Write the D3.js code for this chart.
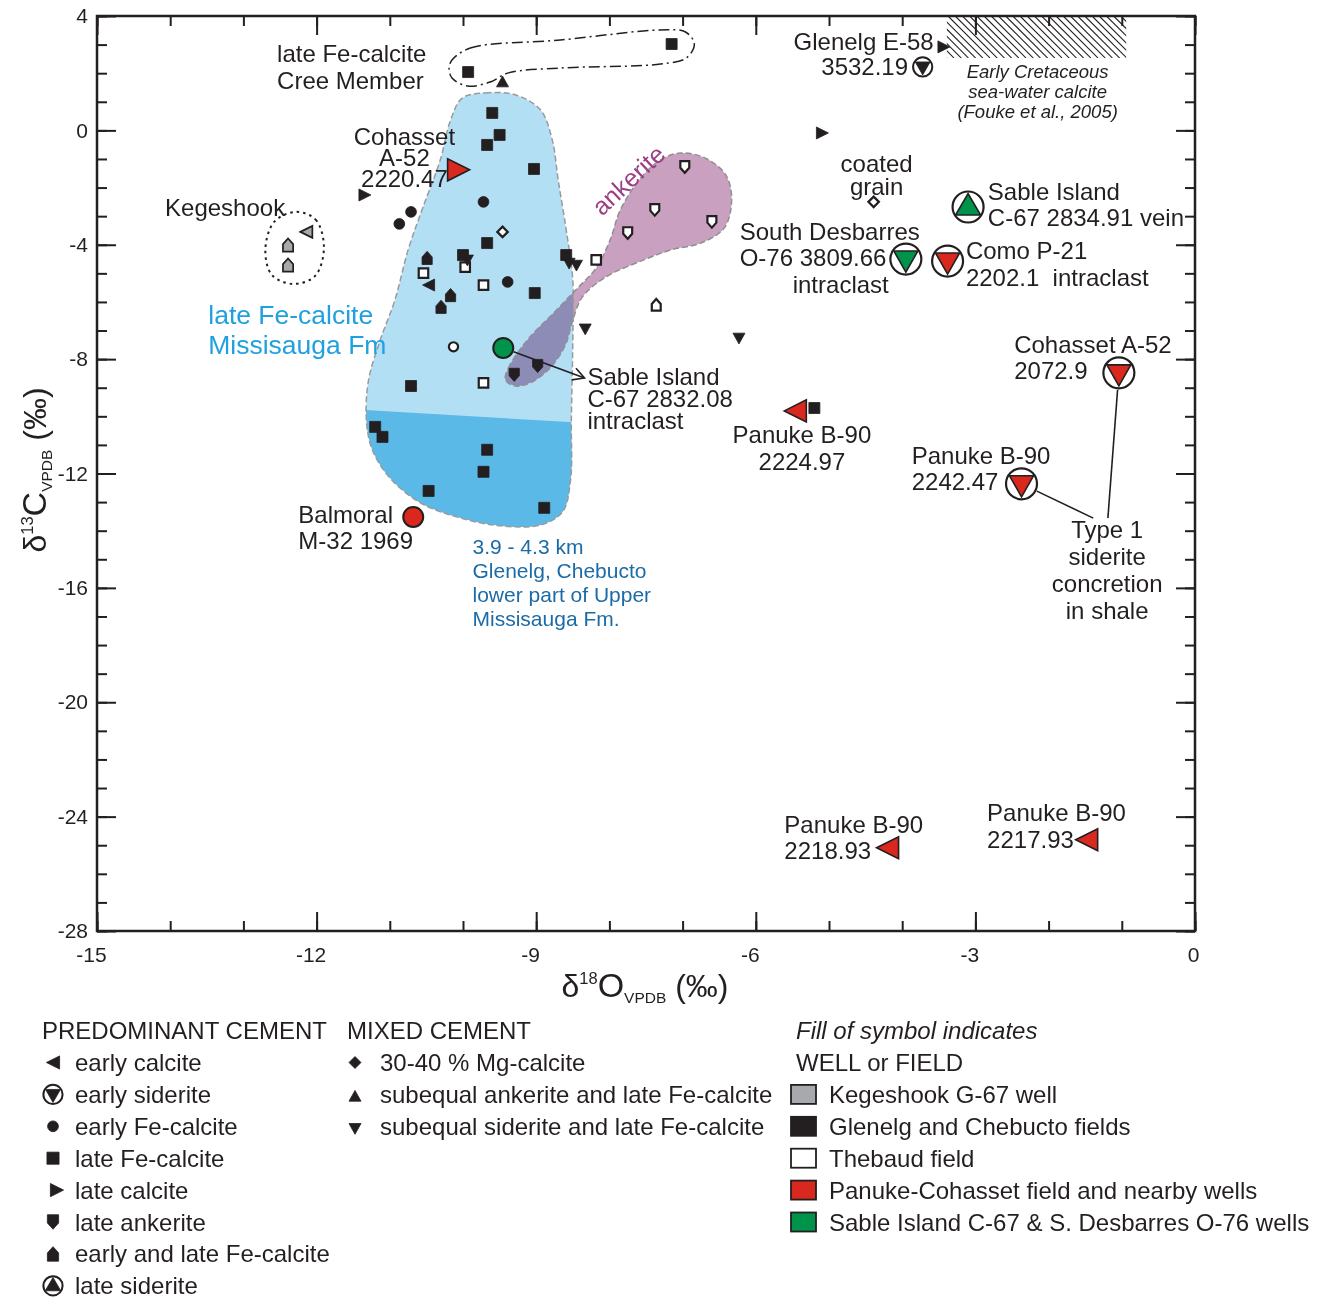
<!DOCTYPE html>
<html><head><meta charset="utf-8">
<script src="https://cdn.jsdelivr.net/npm/d3@7"></script>
<style>
body{margin:0;background:#fff;}
svg{display:block;font-family:"Liberation Sans",Arial,sans-serif;}
</style></head><body>
<svg id="chart" width="1326" height="1300"></svg>
<script>
// ---------- axis ticks ----------
const xMajorTicks = [-15, -12, -9, -6, -3, 0];
const yMajorTicks = [4, 0, -4, -8, -12, -16, -20, -24, -28];

// ---------- samples: [δ18O, δ13C, well/field, labelled sample (drawn large)] ----------
// fields: K Kegeshook G-67, G Glenelg & Chebucto, T Thebaud, P Panuke-Cohasset, S Sable Island / S. Desbarres
const earlyCalcite = [[-10.47,-5.41,"G"],[-12.14,-3.55,"K"],[-5.46,-9.81,"P",1],[-4.20,-25.09,"P",1],[-1.48,-24.81,"P",1]];
const earlySiderite = [[-3.72,2.22,"G"],[-3.95,-4.50,"S",1],[-3.38,-4.57,"P",1],[-1.04,-8.48,"P",1],[-2.37,-12.36,"P",1]];
const earlyFeCalcite = [[-9.72,-2.50,"G"],[-10.71,-2.85,"G"],[-10.87,-3.27,"G"],[-9.39,-5.30,"G"],[-10.13,-7.57,"T"],[-9.45,-7.61,"S",1],[-10.68,-13.52,"P",1]];
const lateFeCalcite = [[-7.15,3.02,"G"],[-9.93,2.04,"G"],[-9.60,0.61,"G"],[-9.50,-0.16,"G"],[-9.67,-0.51,"G"],[-9.03,-1.35,"G"],
  [-9.67,-3.94,"G"],[-10.00,-4.36,"G"],[-8.59,-4.36,"G"],[-9.02,-5.69,"G"],[-10.71,-8.94,"G"],[-11.20,-10.37,"G"],
  [-11.10,-10.72,"G"],[-9.67,-11.17,"G"],[-9.72,-11.94,"G"],[-10.47,-12.61,"G"],[-8.89,-13.20,"G"],[-5.20,-9.71,"G"],
  [-10.54,-4.99,"T"],[-9.97,-4.78,"T"],[-9.72,-5.41,"T"],[-8.18,-4.53,"T"],[-9.72,-8.83,"T"]];
const lateCalcite = [[-11.34,-2.26,"G"],[-3.43,2.92,"G"],[-5.09,-0.09,"G"],[-10.06,-1.38,"P",1]];
const lateAnkerite = [[-8.98,-8.24,"G"],[-9.30,-8.55,"G"],[-6.97,-1.28,"T"],[-7.38,-2.78,"T"],[-6.60,-3.20,"T"],[-7.75,-3.59,"T"]];
const earlyLateFeCalcite = [[-10.49,-4.46,"G"],[-10.17,-5.76,"G"],[-10.30,-6.17,"G"],[-7.36,-6.10,"T"],[-12.39,-4.01,"K"],[-12.39,-4.71,"K"]];
const lateSiderite = [[-3.10,-2.68,"S",1]];
const mgCalcite = [[-9.46,-3.55,"T"],[-4.39,-2.50,"T"]];
const ankeriteFeCalcite = [[-9.46,1.69,"G"]];
const sideriteFeCalcite = [[-9.94,-4.53,"G"],[-8.55,-4.64,"G"],[-8.45,-4.71,"G"],[-8.33,-6.94,"G"],[-6.23,-7.26,"G"]];

// ---------- outlined fields: [δ18O, δ13C] ----------
const missisaugaField = [[-10.01,1.13],[-9.69,1.31],[-9.28,1.24],[-8.94,0.71],[-8.78,-0.34],[-8.70,-1.73],[-8.59,-3.48],
  [-8.50,-5.23],[-8.50,-7.33],[-8.52,-10.13],[-8.53,-12.22],[-8.64,-13.34],[-8.94,-13.80],[-9.49,-13.83],[-10.04,-13.55],
  [-10.58,-13.03],[-11.00,-12.15],[-11.24,-11.17],[-11.32,-10.13],[-11.29,-8.73],[-11.13,-7.33],[-10.93,-5.93],
  [-10.75,-4.18],[-10.56,-2.78],[-10.31,-1.03],[-10.17,0.36]];
const deepZone = [[-11.8,-9.71],[-8.2,-10.25],[-8.2,-15],[-11.8,-15]];   // 3.9 - 4.3 km part of the field
const ankeriteField = [[-9.42,-8.73],[-9.38,-8.31],[-9.12,-7.33],[-8.76,-6.38],[-8.46,-5.58],[-8.18,-4.81],[-7.99,-3.83],
  [-7.85,-2.78],[-7.57,-1.66],[-7.30,-1.03],[-7.03,-0.79],[-6.69,-0.97],[-6.41,-1.56],[-6.33,-2.43],[-6.43,-3.41],
  [-6.75,-3.94],[-7.16,-4.18],[-7.53,-4.53],[-8.05,-5.13],[-8.37,-5.83],[-8.50,-6.63],[-8.60,-7.50],[-8.81,-8.31],
  [-9.08,-8.83],[-9.28,-8.94]];
const kegeshookField = [[-12.28,-2.85],[-12.01,-3.13],[-11.90,-4.11],[-12.02,-5.09],[-12.32,-5.37],[-12.61,-5.06],[-12.70,-4.18],[-12.58,-3.20]];
const creeField = [[-10.15,2.46],[-9.90,2.88],[-8.67,3.16],[-7.30,3.51],[-6.96,3.44],[-6.84,3.02],[-6.95,2.53],[-7.30,2.32],
  [-8.67,2.18],[-9.38,2.01],[-9.63,1.69],[-9.93,1.55],[-10.15,1.83],[-10.19,2.18]];
const seawaterO = [-3.39, -0.94];
const seawaterC = [2.53, 4];

// ---------- legend entries ----------
const predominantCement = [["earlyCalcite","early calcite"],["earlySiderite","early siderite"],["earlyFeCalcite","early Fe-calcite"],
  ["lateFeCalcite","late Fe-calcite"],["lateCalcite","late calcite"],["lateAnkerite","late ankerite"],
  ["earlyLateFeCalcite","early and late Fe-calcite"],["lateSiderite","late siderite"]];
const mixedCement = [["mgCalcite","30-40 % Mg-calcite"],["ankeriteFeCalcite","subequal ankerite and late Fe-calcite"],
  ["sideriteFeCalcite","subequal siderite and late Fe-calcite"]];
const wellFields = [["K","Kegeshook G-67 well"],["G","Glenelg and Chebucto fields"],["T","Thebaud field"],
  ["P","Panuke-Cohasset field and nearby wells"],["S","Sable Island C-67 & S. Desbarres O-76 wells"]];

// ---------- styles ----------
const INK = "#231f20";
const FIELD_COLOR = {K:"#a7a9ac", G:INK, T:"#ffffff", P:"#d9281d", S:"#00944a"};
const SHAPE = {earlyCalcite:"left", earlyFeCalcite:"circle", lateFeCalcite:"square", lateCalcite:"right",
  lateAnkerite:"shield", earlyLateFeCalcite:"house", mgCalcite:"diamond", ankeriteFeCalcite:"up",
  sideriteFeCalcite:"down", earlySiderite:"ringDown", lateSiderite:"ringUp"};
const FONT = 24;

const svg = d3.select("#chart");
const x = d3.scaleLinear().domain([-15, 0]).range([97, 1195]);
const y = d3.scaleLinear().domain([-28, 4]).range([931, 16]);

function shapePath(kind, s) {
  const h = s / 2;
  switch (kind) {
    case "square": return `M${-h},${-h}H${h}V${h}H${-h}Z`;
    case "left": return `M${-h},0L${h},${-h}L${h},${h}Z`;
    case "right": return `M${h},0L${-h},${-h}L${-h},${h}Z`;
    case "up": return `M0,${-h}L${h},${h*0.8}L${-h},${h*0.8}Z`;
    case "down": return `M0,${h}L${h},${-h*0.8}L${-h},${-h*0.8}Z`;
    case "diamond": return `M0,${-h}L${h},0L0,${h}L${-h},0Z`;
    case "house": return `M${-h*0.85},${h*1.1}V${-h*0.15}L0,${-h*1.1}L${h*0.85},${-h*0.15}V${h*1.1}Z`;
    case "shield": return `M${-h*0.85},${-h*1.1}H${h*0.85}V${h*0.15}L0,${h*1.1}L${-h*0.85},${h*0.15}Z`;
  }
}

function drawMark(g, type, field, big, scale) {
  const shape = SHAPE[type];
  const fill = FIELD_COLOR[field];
  const f = scale || 1;
  const sw = field === "G" ? 0.8 : (field === "T" ? 2.2 : 1.7);
  if (shape === "circle") {
    g.append("circle").attr("r", big ? 10 : (field === "T" ? 4.6 : 5.4))
      .attr("fill", fill).attr("stroke", INK).attr("stroke-width", big ? 2 : sw);
  } else if (shape === "ringDown" || shape === "ringUp") {
    const R = big ? 15.5 : 9.6;
    g.append("circle").attr("r", R).attr("fill", "#fff").attr("stroke", INK).attr("stroke-width", big ? 2.2 : 2);
    const k = R / 15.5;
    const t = shape === "ringDown" ? [[-12,-8],[12,-8],[0,13]] : [[-12.5,8],[12.5,8],[0,-13.5]];
    g.append("path").attr("d", "M" + t.map(p => [p[0]*k, p[1]*k].join(",")).join("L") + "Z")
      .attr("fill", fill).attr("stroke", INK).attr("stroke-width", big ? 1.6 : 0.8);
  } else {
    const s = (big ? 22 : (shape === "square" ? 11 : 12)) * f;
    g.append("path").attr("d", shapePath(shape, field === "T" ? s - 1.5 : s))
      .attr("fill", fill).attr("stroke", INK).attr("stroke-width", big ? 1.6 : sw);
  }
}

// ---------- fields ----------
const blob = d3.line().x(d => x(d[0])).y(d => y(d[1])).curve(d3.curveCatmullRomClosed.alpha(0.5));
const poly = d3.line().x(d => x(d[0])).y(d => y(d[1])).curve(d3.curveLinearClosed);
const defs = svg.append("defs");
defs.append("clipPath").attr("id", "deepClip").append("path").attr("d", poly(deepZone));
defs.append("clipPath").attr("id", "hatchClip").append("rect")
  .attr("x", x(seawaterO[0])).attr("y", y(seawaterC[1]))
  .attr("width", x(seawaterO[1]) - x(seawaterO[0])).attr("height", y(seawaterC[0]) - y(seawaterC[1]));

const fieldLayer = svg.append("g");
fieldLayer.append("path").attr("d", blob(missisaugaField)).attr("fill", "#b3dff4");
fieldLayer.append("path").attr("d", blob(missisaugaField)).attr("fill", "#5bb9e8").attr("clip-path", "url(#deepClip)");
fieldLayer.append("path").attr("d", blob(ankeriteField)).attr("fill", "#c9a0bf").style("mix-blend-mode", "multiply");
fieldLayer.append("path").attr("d", blob(missisaugaField)).attr("fill", "none")
  .attr("stroke", "#9a9a9c").attr("stroke-width", 1.5).attr("stroke-dasharray", "6,3");
fieldLayer.append("path").attr("d", blob(ankeriteField)).attr("fill", "none")
  .attr("stroke", "#8f8f92").attr("stroke-width", 1.5).attr("stroke-dasharray", "6,3");
fieldLayer.append("path").attr("d", blob(kegeshookField)).attr("fill", "none")
  .attr("stroke", INK).attr("stroke-width", 2).attr("stroke-dasharray", "2.5,4");
fieldLayer.append("path").attr("d", blob(creeField)).attr("fill", "none")
  .attr("stroke", INK).attr("stroke-width", 1.5).attr("stroke-dasharray", "11,4,2,4");

// sea-water calcite hatching
const hx0 = x(seawaterO[0]), hx1 = x(seawaterO[1]), hy0 = y(seawaterC[1]), hy1 = y(seawaterC[0]);
const hh = hy1 - hy0;
const hatch = fieldLayer.append("g").attr("clip-path", "url(#hatchClip)");
for (let k = hx0 - hh; k < hx1 + 2; k += 7.2) {
  hatch.append("line").attr("x1", k).attr("y1", hy0).attr("x2", k + hh).attr("y2", hy1)
    .attr("stroke", INK).attr("stroke-width", 1.1);
}

// ---------- axes ----------
function styleAxis(g) {
  g.select(".domain").remove();
  g.selectAll(".tick line").attr("stroke", INK).attr("stroke-width", 2);
  g.selectAll(".tick text").attr("fill", INK).attr("font-size", 21).attr("font-family", "'Liberation Sans', Arial, sans-serif");
}
const xMinor = d3.range(-15, 0.5, 1), yMinor = d3.range(-28, 4.5, 1);
const fmt = d => String(d);
svg.append("g").attr("transform", "translate(0,931)").call(d3.axisBottom(x).tickValues(xMinor).tickSize(-10).tickFormat("")).call(styleAxis);
svg.append("g").attr("transform", "translate(0,16)").call(d3.axisTop(x).tickValues(xMinor).tickSize(-10).tickFormat("")).call(styleAxis);
svg.append("g").attr("transform", "translate(97,0)").call(d3.axisLeft(y).tickValues(yMinor).tickSize(-10).tickFormat("")).call(styleAxis);
svg.append("g").attr("transform", "translate(1195,0)").call(d3.axisRight(y).tickValues(yMinor).tickSize(-10).tickFormat("")).call(styleAxis);
const bx = svg.append("g").attr("transform", "translate(0,931)")
  .call(d3.axisBottom(x).tickValues(xMajorTicks).tickSize(-19).tickPadding(16).tickFormat(fmt)).call(styleAxis);
bx.selectAll(".tick text").attr("dx", d => d < 0 ? -6 : -2);
svg.append("g").attr("transform", "translate(0,16)").call(d3.axisTop(x).tickValues(xMajorTicks).tickSize(-19).tickFormat("")).call(styleAxis);
svg.append("g").attr("transform", "translate(97,0)")
  .call(d3.axisLeft(y).tickValues(yMajorTicks).tickSize(-19).tickPadding(9).tickFormat(fmt)).call(styleAxis);
svg.append("g").attr("transform", "translate(1195,0)").call(d3.axisRight(y).tickValues(yMajorTicks).tickSize(-19).tickFormat("")).call(styleAxis);
svg.append("rect").attr("x", 97).attr("y", 16).attr("width", 1098).attr("height", 915)
  .attr("fill", "none").attr("stroke", INK).attr("stroke-width", 2.5);

// axis titles
function isoTitle(g, mass, element) {
  const t = g.append("text").attr("text-anchor", "middle").attr("fill", INK);
  t.append("tspan").attr("font-size", 32).text("δ");
  t.append("tspan").attr("font-size", 16.5).attr("dy", -13).text(mass);
  t.append("tspan").attr("font-size", 34).attr("dy", 13).text(element);
  t.append("tspan").attr("font-size", 15.5).attr("dy", 6).text("VPDB");
  t.append("tspan").attr("font-size", 32).attr("dy", -6).text(" (‰)");
}
isoTitle(svg.append("g").attr("transform", "translate(645,997)"), "18", "O");
isoTitle(svg.append("g").attr("transform", "translate(46,470) rotate(-90)"), "13", "C");

// ---------- samples ----------
const markLayer = svg.append("g");
const groups = {earlyCalcite, earlySiderite, earlyFeCalcite, lateFeCalcite, lateCalcite, lateAnkerite,
  earlyLateFeCalcite, lateSiderite, mgCalcite, ankeriteFeCalcite, sideriteFeCalcite};
// connectors first so marks sit on top
const conn = svg.append("g").attr("stroke", INK).attr("stroke-width", 1.6).attr("fill", "none");
function leader(from, r, to, arrow) {
  const x0 = x(from[0]), y0 = y(from[1]), x1 = x(to[0]), y1 = y(to[1]);
  const L = Math.hypot(x1 - x0, y1 - y0), ux = (x1 - x0) / L, uy = (y1 - y0) / L;
  conn.append("line").attr("x1", x0 + ux * r).attr("y1", y0 + uy * r).attr("x2", x1).attr("y2", y1);
  if (arrow) {
    const a = Math.atan2(uy, ux), len = 13, sp = 0.5;
    conn.append("path").attr("d",
      `M${x1 - len*Math.cos(a - sp)},${y1 - len*Math.sin(a - sp)}L${x1},${y1}L${x1 - len*Math.cos(a + sp)},${y1 - len*Math.sin(a + sp)}`);
  }
}
leader(earlyFeCalcite[5], 11, [-8.34, -8.66], true);
leader(earlySiderite[3], 17, [-1.19, -13.56], false);
leader(earlySiderite[4], 17, [-1.39, -13.56], false);

const order = ["lateFeCalcite","earlyFeCalcite","earlyLateFeCalcite","lateAnkerite","mgCalcite","ankeriteFeCalcite",
  "sideriteFeCalcite","earlyCalcite","lateCalcite","earlySiderite","lateSiderite"];
order.forEach(type => {
  groups[type].forEach(d => {
    const g = markLayer.append("g").attr("transform", `translate(${x(d[0])},${y(d[1])})`);
    drawMark(g, type, d[2], !!d[3]);
  });
});

// ---------- annotations ----------
const notes = [
  {o:-12.54, c:2.39, anchor:"start", lh:27, lines:["late Fe-calcite","Cree Member"]},
  {o:-3.57, c:2.81, anchor:"end", lh:0, lines:["Glenelg E-58"]},
  {o:-3.92, c:1.94, anchor:"end", lh:0, lines:["3532.19"]},
  {o:-10.80, c:-0.51, anchor:"middle", lh:21, lines:["Cohasset","A-52","2220.47"]},
  {o:-14.07, c:-2.99, anchor:"start", lh:0, lines:["Kegeshook"]},
  {o:-4.35, c:-1.46, anchor:"middle", lh:23, lines:["coated","grain"]},
  {o:-2.83, c:-2.43, anchor:"start", lh:26, lines:["Sable Island","C-67 2834.91 vein"]},
  {o:-6.22, c:-3.83, anchor:"start", lh:26, lines:["South Desbarres","O-76 3809.66"]},
  {o:-4.84, c:-5.69, anchor:"middle", lh:0, lines:["intraclast"]},
  {o:-3.13, c:-4.50, anchor:"start", lh:27, lines:["Como P-21","2202.1\u00a0\u00a0intraclast"]},
  {o:-8.30, c:-8.90, anchor:"start", lh:22, lines:["Sable Island","C-67 2832.08","intraclast"]},
  {o:-2.47, c:-7.79, anchor:"start", lh:26, lines:["Cohasset A-52","2072.9"]},
  {o:-5.37, c:-10.93, anchor:"middle", lh:27, lines:["Panuke B-90","2224.97"]},
  {o:-3.87, c:-11.67, anchor:"start", lh:26, lines:["Panuke B-90","2242.47"]},
  {o:-1.20, c:-14.26, anchor:"middle", lh:27, lines:["Type 1","siderite","concretion","in shale"]},
  {o:-12.25, c:-13.73, anchor:"start", lh:26, lines:["Balmoral","M-32 1969"]},
  {o:-5.61, c:-24.57, anchor:"start", lh:26, lines:["Panuke B-90","2218.93"]},
  {o:-2.84, c:-24.15, anchor:"start", lh:27, lines:["Panuke B-90","2217.93"]},
  {o:-2.15, c:1.83, anchor:"middle", lh:20, size:18.5, italic:true, lines:["Early Cretaceous","sea-water calcite","(Fouke et al., 2005)"]},
  {o:-13.48, c:-6.77, anchor:"start", lh:30, size:26.5, color:"#1fa1e0", lines:["late Fe-calcite","Missisauga Fm"]},
  {o:-9.87, c:-14.82, anchor:"start", lh:24, size:21, color:"#1b6ba6", lines:["3.9 - 4.3 km","Glenelg, Chebucto","lower part of Upper","Missisauga Fm."]}
];
const noteLayer = svg.append("g");
notes.forEach(n => {
  const t = noteLayer.append("text").attr("x", x(n.o)).attr("y", y(n.c))
    .attr("text-anchor", n.anchor).attr("font-size", n.size || FONT).attr("fill", n.color || INK)
    .attr("font-style", n.italic ? "italic" : null);
  n.lines.forEach((line, i) => t.append("tspan").attr("x", x(n.o)).attr("dy", i ? n.lh : 0).text(line));
});
noteLayer.append("text").attr("transform", `translate(${x(-7.74)},${y(-1.74)}) rotate(-43)`)
  .attr("text-anchor", "middle").attr("dy", "0.35em").attr("font-size", 25).attr("fill", "#9c3d86").text("ankerite");

// ---------- legend ----------
const leg = svg.append("g").attr("fill", INK).attr("font-size", FONT);
const rowY = i => 1062.5 + i * 31.9;
leg.append("text").attr("x", 42).attr("y", 1039).text("PREDOMINANT CEMENT");
predominantCement.forEach(([type, label], i) => {
  const g = leg.append("g").attr("transform", `translate(${type === "lateCalcite" ? 57 : 53},${rowY(i)})`);
  drawMark(g, type, "G", false, 1.1);
  leg.append("text").attr("x", 75).attr("y", rowY(i) + 8.5).text(label);
});
leg.append("text").attr("x", 347).attr("y", 1039).text("MIXED CEMENT");
mixedCement.forEach(([type, label], i) => {
  const g = leg.append("g").attr("transform", `translate(355,${rowY(i) + (type === "mgCalcite" ? 0 : 2)})`);
  drawMark(g, type, "G", false);
  leg.append("text").attr("x", 380).attr("y", rowY(i) + 8.5).text(label);
});
leg.append("text").attr("x", 796).attr("y", 1039).attr("font-style", "italic").text("Fill of symbol indicates");
leg.append("text").attr("x", 796).attr("y", 1071).text("WELL or FIELD");
wellFields.forEach(([key, label], i) => {
  const cy = rowY(i + 1);
  leg.append("rect").attr("x", 791).attr("y", cy - 9.5).attr("width", 25).attr("height", 19)
    .attr("fill", FIELD_COLOR[key]).attr("stroke", INK).attr("stroke-width", 1.8);
  leg.append("text").attr("x", 829).attr("y", cy + 8.5).text(label);
});
</script>
</body></html>
